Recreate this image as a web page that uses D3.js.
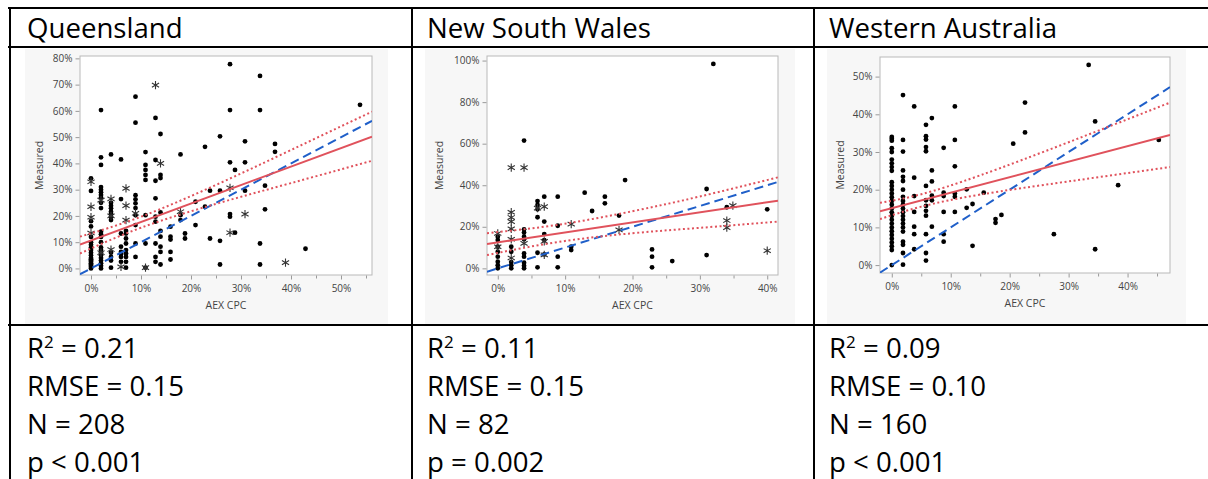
<!DOCTYPE html>
<html>
<head>
<meta charset="utf-8">
<script src="https://cdn.jsdelivr.net/npm/d3@7"></script>
<style>
  body { margin: 0; background: #fff; }
  text { font-family: "Open Sans", sans-serif; }
</style>
</head>
<body>
<svg id="chart" width="1208" height="479"></svg>
<script>
// ---- values (percent) ----

// Queensland
var qldDots = [
  [0,0],[0,0.5],[0,1],[0,1.5],[0,2],[0,2.5],[0,3],[0,3.5],[0,4],[0,5],[0,6],[0,7],[0,8],[0,9],[0,10],[0,12],[0,16],[0,18],[0,29.5],[0,34.3],
  [2,0],[2,1],[2,2],[2,3],[2,4],[2,5],[2,6],[2,7],[2,8],[2,10],[2,12],[2,13],[2,14],[2,23],[2,25],[2,27],[2,28],[2,29],[2,30],[2,31],[2,39.4],[2,42.3],[2,60.3],
  [4,0.3],[4,3],[4,4.4],[4,6],[4,18.4],[4,19.7],[4,20.7],[4,21.6],[4,22.9],[4,23.9],[4,25],[4,43.4],
  [6,2.5],[6,4.4],[6,5.5],[6,6.3],[6,8.3],[6,13.3],[6,26.4],[6,41.5],
  [7,0.3],[7,2.5],[7,4.4],[7,5.7],[7,7],[7,9.5],[7,11.4],[7,13.3],[7,14.3],
  [8.9,4.4],[8.9,9.5],[8.9,16.5],[8.9,20.3],[8.9,23],[8.9,24.8],[8.9,26.3],[8.9,27.9],[8.9,55.5],[8.9,65.4],
  [10.9,0.3],[10.9,9.5],[10.9,20.3],[10.9,33.7],[10.9,35.6],[10.9,37.5],[10.9,39.4],[10.9,44.3],
  [12.9,2.5],[12.9,4.4],[12.9,9.5],[12.9,17.8],[12.9,19.7],[12.9,26.7],[12.9,33.4],[12.9,41.3],[12.9,57.3],
  [13.9,1.5],[13.9,6.3],[13.9,8.3],[13.9,12.1],[13.9,14.3],[13.9,21.3],[13.9,34.4],[13.9,35.6],[13.9,51.2],
  [15.9,3.4],[15.9,6.3],[15.9,11],[15.9,12.1],[15.9,15.9],
  [17.9,18.4],[17.9,20.3],[17.9,43.4],
  [18.8,11.4],[18.8,13.3],
  [20.9,16.5],[20.9,25.4],
  [22.8,23.5],[22.8,46.3],
  [23.8,11.4],[23.8,29.6],
  [25.8,1.5],[25.8,10.5],[25.8,29.6],[25.8,50.3],
  [27.8,19.7],[27.8,20.7],[27.8,40.4],[27.8,60.3],[27.8,77.8],
  [28.8,13.6],[28.8,37.5],
  [30.8,29.6],[30.8,40.4],[30.8,48.4],
  [33.8,1.5],[33.8,9.5],[33.8,60.3],[33.8,73.3],
  [34.8,22.5],[34.8,31.5],
  [36.8,44.4],[36.8,47.4],
  [42.9,7.5],
  [53.8,62.3]
];
var qldStars = [
  [0,13.5],[0,19.5],[0,23.5],[0,33],[2,6],[2,26],[4,7.2],[4,20],[4,26.5],[6,0.6],
  [7,18.4],[7,23.9],[7,30.5],[8.9,21],[10.9,0.3],[12.9,69.8],[13.9,40],[17.9,21.6],
  [27.8,13.6],[27.8,30.7],[30.8,20.7],[38.9,2.2]
];
var qldFitX = [-2.2, 56.2];
var qldFitY = [9.1, 50.2];
var qldBandX = [-2.2, 10, 25, 40, 56.2];
var qldUpper = [12.1, 19.7, 31.8, 45.1, 59.7];
var qldLower = [5.7, 15.5, 24.6, 32.5, 41.0];
var qldXTicks = [0, 10, 20, 30, 40, 50];
var qldXMinor = [5, 15, 25, 35, 45, 55];
var qldYTicks = [0, 10, 20, 30, 40, 50, 60, 70, 80];
var qldStats = ["0.21", "RMSE = 0.15", "N = 208", "p < 0.001"];

// New South Wales
var nswDots = [
  [0,0],[0,1.5],[0,3.2],[0,5.6],[0,8],[0,10.4],[0,13.6],[0,15.2],
  [2,0],[2,1.5],[2,3],[2,8],[2,10.4],
  [3.9,0],[3.9,1.2],[3.9,2.7],[3.9,5.6],[3.9,7.2],[3.9,14],[3.9,15.2],[3.9,17.2],[3.9,18.8],[3.9,61.5],
  [5.9,0.5],[5.9,7.5],[5.9,24.6],[5.9,28.4],[5.9,30.5],[5.9,32.4],
  [6.9,6.7],[6.9,13.6],[6.9,16.5],[6.9,22.5],[6.9,34.5],
  [8.9,0.5],[8.9,5.6],[8.9,20.5],[8.9,34.5],
  [10.9,8.8],[10.9,10.4],
  [12.9,36.4],[14,27.6],[15.9,31.3],[15.9,34.5],[18,25.4],[18.9,42.5],
  [22.9,0.5],[22.9,5.6],[22.9,9.1],[25.9,3.5],
  [31,6.4],[31,38.2],[32,98.4],[34,29.4],[40,28.4]
];
var nswStars = [
  [0,10.4],[0,16.8],
  [2,5],[2,14],[2,19],[2,22.5],[2,24.5],[2,27],[2,48.5],
  [3.9,12],[3.9,48.5],[5.9,29],[6.9,6.5],[6.9,13],[6.9,29.7],[10.9,21.3],
  [18,18.5],[34,19.6],[34,23],[34.9,30.2],[40,8.5]
];
var nswFitX = [-1.6, 41.6];
var nswFitY = [11.7, 32.6];
var nswBandX = [-1.6, 9, 20, 30, 41.6];
var nswUpper = [16.9, 21.0, 27.5, 34.6, 43.8];
var nswLower = [6.4, 12.7, 16.9, 19.5, 22.5];
var nswXTicks = [0, 10, 20, 30, 40];
var nswXMinor = [5, 15, 25, 35];
var nswYTicks = [0, 20, 40, 60, 80, 100];
var nswStats = ["0.11", "RMSE = 0.15", "N = 82", "p = 0.002"];

// Western Australia
var waDots = [
  [0,0],[0,4],[0,5],[0,6],[0,7],[0,8],[0,9],[0,10],[0,11],[0,12],[0,13],[0,14],[0,15],[0,16],[0,17],[0,18],[0,19],[0,20],[0,21],[0,22],
  [0,25],[0,26],[0,27],[0,28],[0,30],[0,31],[0,33],[0,33.5],[0,34],
  [1.9,0.1],[1.9,3.2],[1.9,5.4],[1.9,6.2],[1.9,8.9],[1.9,10],[1.9,11],[1.9,12],[1.9,13],[1.9,14],[1.9,15],[1.9,16],[1.9,17],[1.9,18.1],
  [1.9,20],[1.9,22.3],[1.9,23.4],[1.9,25.1],[1.9,30.1],[1.9,33.2],[1.9,45.1],
  [3.8,4.2],[3.8,8.2],[3.8,10.2],[3.8,14.1],[3.8,18.3],[3.8,23.2],[3.8,42.1],
  [5.8,1.2],[5.8,3.2],[5.8,8.2],[5.8,13.1],[5.8,14.4],[5.8,15.7],[5.8,17.2],[5.8,21],[5.8,30.2],[5.8,31.3],[5.8,33.3],[5.8,34.2],[5.8,37.2],
  [6.8,10.2],[6.8,17.2],[6.8,18.4],[6.8,22.2],[6.8,25.1],[6.8,39],
  [8.8,6.2],[8.8,8.2],[8.8,14.1],[8.8,18.3],[8.8,19.2],[8.8,31.1],
  [10.7,14.1],[10.7,18.1],[10.7,19],[10.7,26.2],[10.7,33.2],[10.7,42.1],
  [12.7,15.2],[12.7,20.1],[13.7,5.1],[13.7,16.2],[15.6,19.2],[17.6,11.2],[17.6,12.2],[18.6,13.3],
  [20.6,32.2],[22.6,35.2],[22.6,43.1],[27.5,8.2],[33.4,53.1],[34.5,4.2],[34.5,38.1],[38.4,21.2],[45.3,33.2]
];
var waStars = [];
var waFitX = [-2, 47.2];
var waFitY = [14.3, 34.5];
var waBandX = [-2, 5, 15, 30, 47.2];
var waUpper = [16.5, 18.8, 23.8, 32.6, 43.1];
var waLower = [12.2, 15.5, 18.7, 22.2, 26.0];
var waXTicks = [0, 10, 20, 30, 40];
var waXMinor = [5, 15, 25, 35, 45];
var waYTicks = [0, 10, 20, 30, 40, 50];
var waStats = ["0.09", "RMSE = 0.10", "N = 160", "p < 0.001"];

var regionNames = ["Queensland", "New South Wales", "Western Australia"];

// ---- layout ----
var panels = [
  { name: regionNames[0], dots: qldDots, stars: qldStars, fitX: qldFitX, fitY: qldFitY,
    bandX: qldBandX, upper: qldUpper, lower: qldLower,
    xTicks: qldXTicks, xMinor: qldXMinor, yTicks: qldYTicks, stats: qldStats,
    xDom: [-2.2, 56.2], yDom: [-2.5, 80.9],
    cellX: 27, bg: [25, 49, 388, 324], frame: [80, 56, 372, 275], yLabelX: 39 },
  { name: regionNames[1], dots: nswDots, stars: nswStars, fitX: nswFitX, fitY: nswFitY,
    bandX: nswBandX, upper: nswUpper, lower: nswLower,
    xTicks: nswXTicks, xMinor: nswXMinor, yTicks: nswYTicks, stats: nswStats,
    xDom: [-1.6, 41.6], yDom: [-3.2, 102.2],
    cellX: 427, bg: [425, 49, 795, 324], frame: [487, 56, 778, 275], yLabelX: 439 },
  { name: regionNames[2], dots: waDots, stars: waStars, fitX: waFitX, fitY: waFitY,
    bandX: waBandX, upper: waUpper, lower: waLower,
    xTicks: waXTicks, xMinor: waXMinor, yTicks: waYTicks, stats: waStats,
    xDom: [-2, 47.2], yDom: [-2.1, 55.2],
    cellX: 829, bg: [827, 49, 1186, 324], frame: [880, 57, 1170, 273], yLabelX: 840 }
];

var svg = d3.select("#chart");
var red = "#e0525c";
var blue = "#1f5fc9";
var pct = function(d) { return d + "%"; };
var cellFont = "27.6px";

panels.forEach(function(p, i) {
  var g = svg.append("g");
  var f = p.frame;

  // grey image background
  g.append("rect")
    .attr("x", p.bg[0]).attr("y", p.bg[1])
    .attr("width", p.bg[2] - p.bg[0]).attr("height", p.bg[3] - p.bg[1])
    .attr("fill", "#f7f7f7");

  var x = d3.scaleLinear().domain(p.xDom).range([f[0], f[2]]);
  var y = d3.scaleLinear().domain(p.yDom).range([f[3], f[1]]);

  g.append("rect")
    .attr("x", f[0]).attr("y", f[1])
    .attr("width", f[2] - f[0]).attr("height", f[3] - f[1])
    .attr("fill", "#fff").attr("stroke", "#b9b9b9");

  // axes
  var xAxis = g.append("g").attr("transform", "translate(0," + (f[3] + 0.5) + ")")
    .call(d3.axisBottom(x).tickValues(p.xTicks).tickFormat(pct).tickSize(4).tickPadding(5));
  g.append("g").attr("transform", "translate(0," + (f[3] + 0.5) + ")")
    .call(d3.axisBottom(x).tickValues(p.xMinor).tickFormat("").tickSize(3))
    .call(function(a) { a.select(".domain").remove(); });
  var yAxis = g.append("g").attr("transform", "translate(" + (f[0] - 0.5) + ",0)")
    .call(d3.axisLeft(y).tickValues(p.yTicks).tickFormat(pct).tickSize(4).tickPadding(3));
  [xAxis, yAxis].forEach(function(a) { a.select(".domain").remove(); });
  g.selectAll(".tick line").attr("stroke", "#9a9a9a");
  g.selectAll(".tick text").attr("fill", "#444").style("font-size", "10px")
    .style("font-family", "'Open Sans', sans-serif");

  g.append("text")
    .attr("x", (f[0] + f[2]) / 2).attr("y", f[3] + 34)
    .attr("text-anchor", "middle").attr("fill", "#444").style("font-size", "10.5px")
    .text("AEX CPC");
  g.append("text")
    .attr("transform", "translate(" + (p.yLabelX + 4) + "," + ((f[1] + f[3]) / 2) + ") rotate(-90)")
    .attr("text-anchor", "middle").attr("fill", "#444").style("font-size", "10.5px")
    .text("Measured");

  // clip for marks
  var clipId = "clip" + i;
  g.append("clipPath").attr("id", clipId).append("rect")
    .attr("x", f[0]).attr("y", f[1]).attr("width", f[2] - f[0]).attr("height", f[3] - f[1]);
  var plot = g.append("g").attr("clip-path", "url(#" + clipId + ")");

  plot.selectAll("circle").data(p.dots).enter().append("circle")
    .attr("cx", function(d) { return x(d[0]); })
    .attr("cy", function(d) { return y(d[1]); })
    .attr("r", 2.4)
    .attr("fill", "#000");

  var star = d3.symbol().type(d3.symbolAsterisk).size(48);
  plot.selectAll("path.star").data(p.stars).enter().append("path")
    .attr("class", "star")
    .attr("transform", function(d) { return "translate(" + x(d[0]) + "," + y(d[1]) + ")"; })
    .attr("d", star)
    .attr("fill", "none").attr("stroke", "#333").attr("stroke-width", 1.1);

  // 1:1 reference line across the x domain
  plot.append("line")
    .attr("x1", x(p.xDom[0])).attr("y1", y(p.xDom[0]))
    .attr("x2", x(p.xDom[1])).attr("y2", y(p.xDom[1]))
    .attr("stroke", blue).attr("stroke-width", 2).attr("stroke-dasharray", "9,5");

  // confidence curves
  var band = d3.line().curve(d3.curveNatural)
    .x(function(d) { return x(d[0]); })
    .y(function(d) { return y(d[1]); });
  [p.upper, p.lower].forEach(function(vals) {
    plot.append("path")
      .datum(p.bandX.map(function(v, k) { return [v, vals[k]]; }))
      .attr("d", band)
      .attr("fill", "none").attr("stroke", red).attr("stroke-width", 2)
      .attr("stroke-dasharray", "2,2.6");
  });

  // fit line
  plot.append("line")
    .attr("x1", x(p.fitX[0])).attr("y1", y(p.fitY[0]))
    .attr("x2", x(p.fitX[1])).attr("y2", y(p.fitY[1]))
    .attr("stroke", red).attr("stroke-width", 2);

  // table text
  svg.append("text").attr("x", p.cellX).attr("y", 38)
    .style("font-size", cellFont).attr("fill", "#000").text(p.name);

  var r2 = svg.append("text").attr("x", p.cellX).attr("y", 358)
    .style("font-size", cellFont).attr("fill", "#000");
  r2.append("tspan").text("R");
  r2.append("tspan").attr("dy", -10).style("font-size", "17px").text("2");
  r2.append("tspan").attr("dy", 10).text(" = " + p.stats[0]);
  p.stats.slice(1).forEach(function(s, k) {
    svg.append("text").attr("x", p.cellX).attr("y", 396 + k * 38)
      .style("font-size", cellFont).attr("fill", "#000").text(s);
  });
});

// table rules
var rules = svg.append("g").attr("stroke", "#000").attr("stroke-width", 2);
[8, 47, 325].forEach(function(yv) {
  rules.append("line").attr("x1", 8).attr("x2", 1208).attr("y1", yv).attr("y2", yv);
});
[10, 412, 814].forEach(function(xv) {
  rules.append("line").attr("x1", xv).attr("x2", xv).attr("y1", 7).attr("y2", 479);
});
</script>
</body>
</html>
